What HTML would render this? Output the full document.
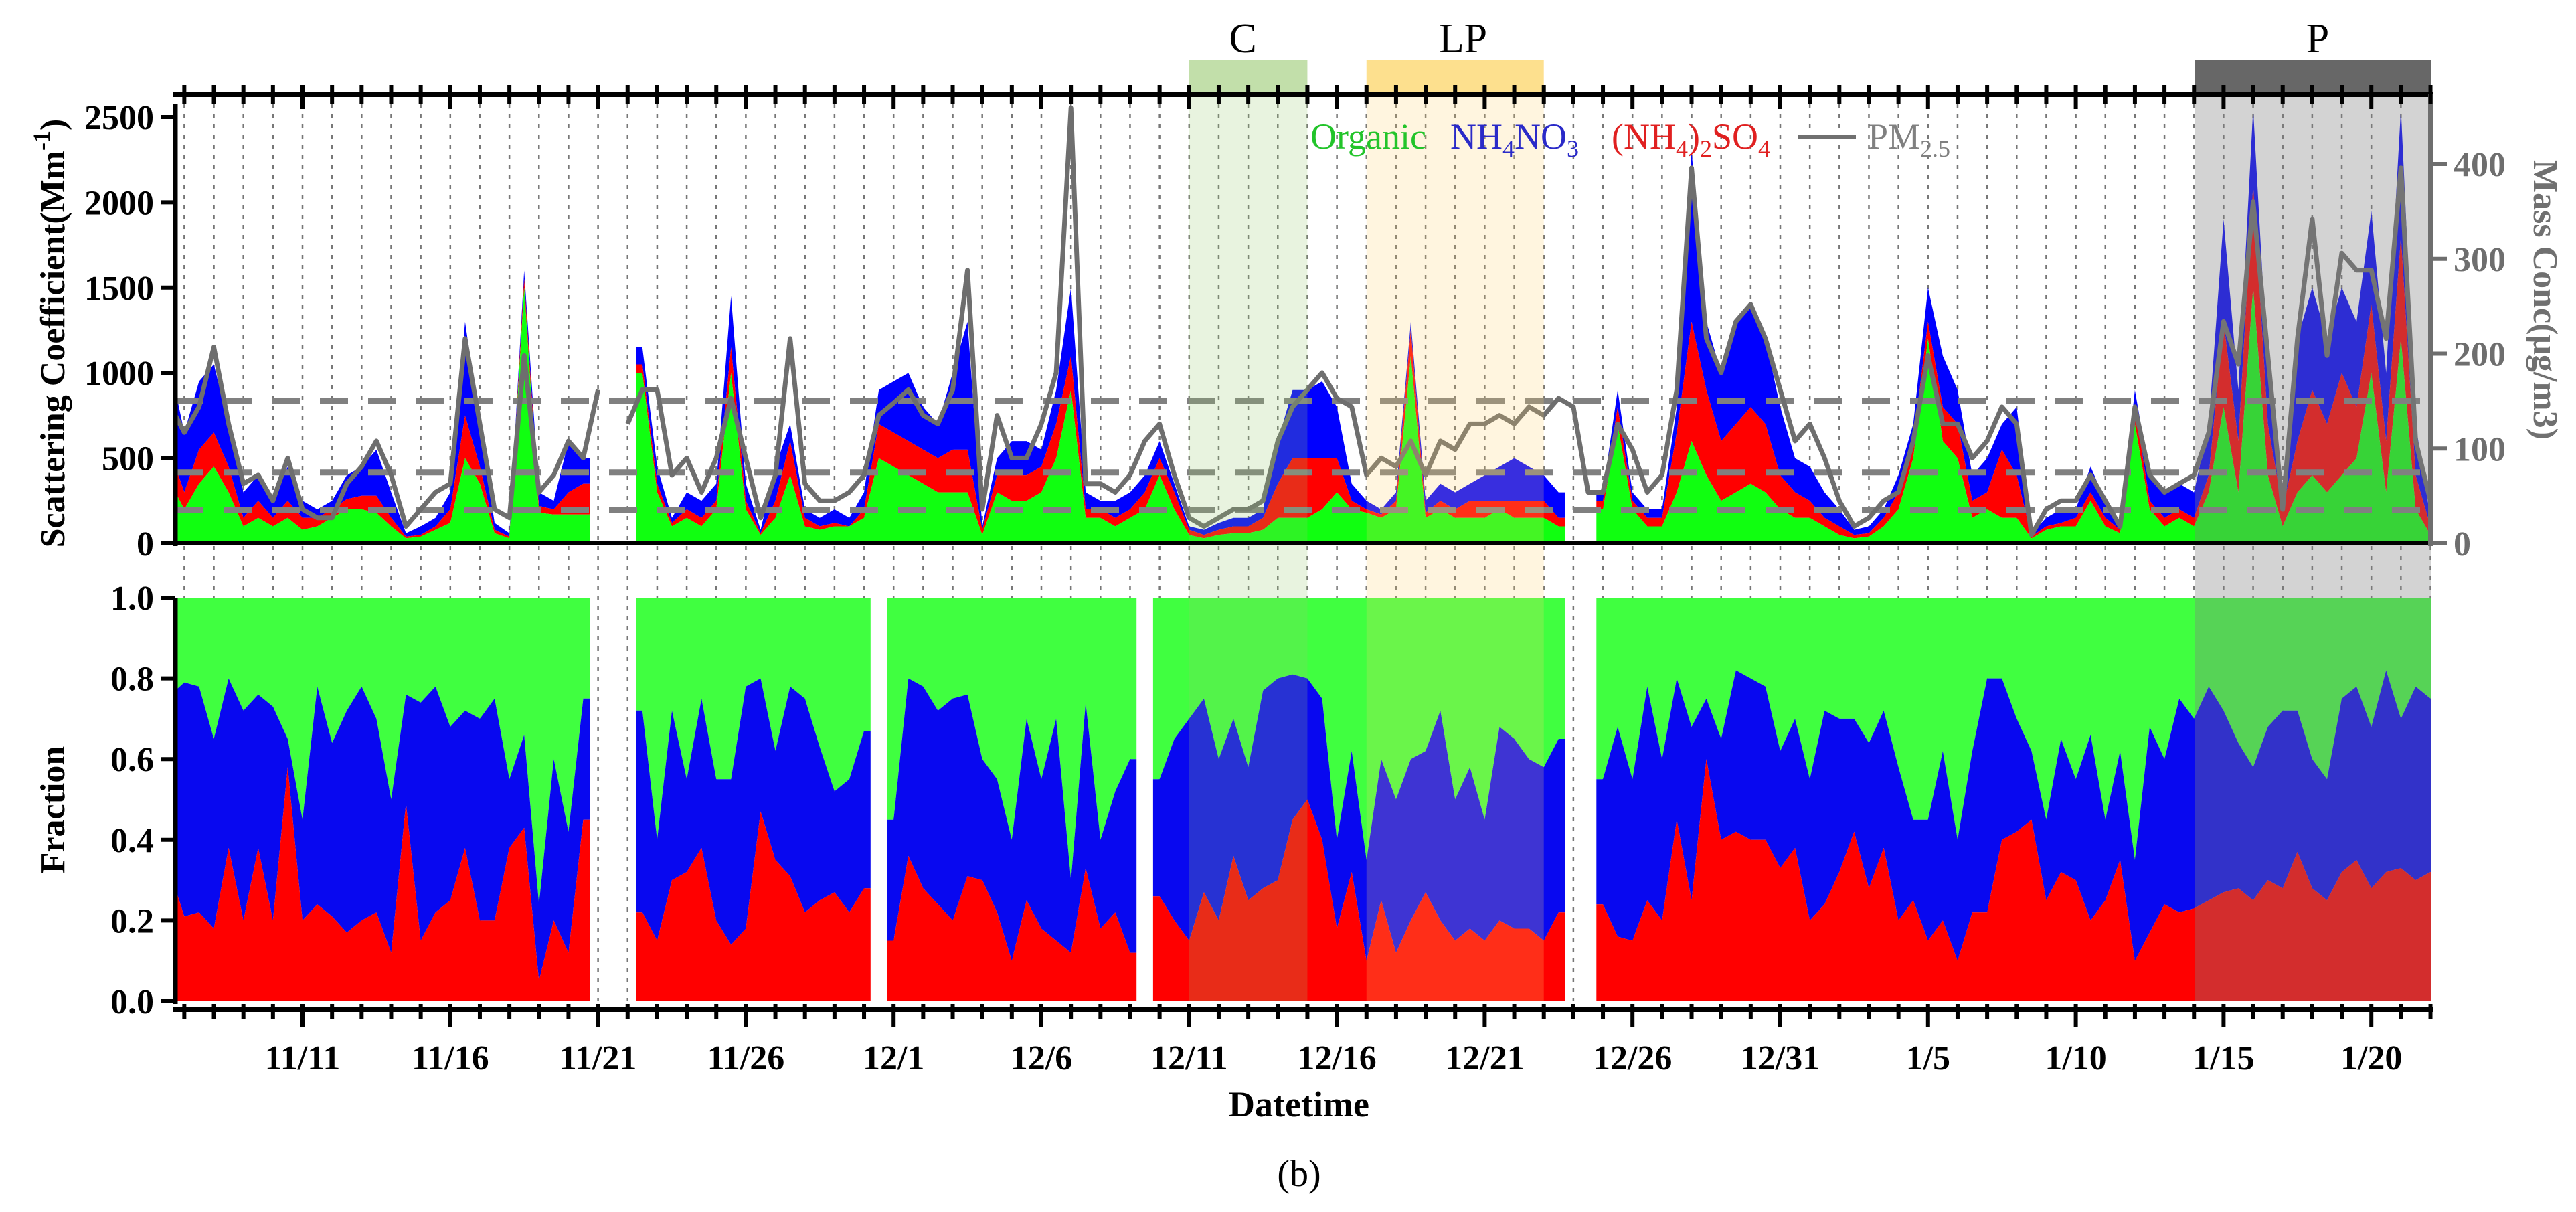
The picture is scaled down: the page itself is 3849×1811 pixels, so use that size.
<!DOCTYPE html>
<html><head><meta charset="utf-8"><style>
html,body{margin:0;padding:0;background:#fff;}
svg{display:block;}
text{font-family:"Liberation Serif","Times New Roman",serif;}
</style></head><body>
<svg id="chart" xmlns="http://www.w3.org/2000/svg" width="3849" height="1811" viewBox="0 0 3849 1811">
<g id="gridLayer"></g>
<g id="topMarks"></g>
<g id="botMarks"></g>
<g id="overlays"></g>
<g id="axes"></g>
<g id="labels">
  <text x="1857" y="78" font-size="62" text-anchor="middle">C</text>
  <text x="2186" y="78" font-size="62" text-anchor="middle">LP</text>
  <text x="3463" y="78" font-size="62" text-anchor="middle">P</text>
  <g font-size="54">
    <text x="1958" y="222" fill="#22c42a">Organic</text>
    <text x="2167" y="222" fill="#2a2ac8">NH<tspan font-size="36" dy="12">4</tspan><tspan dy="-12">NO</tspan><tspan font-size="36" dy="12">3</tspan></text>
    <text x="2408" y="222" fill="#e02020">(NH<tspan font-size="36" dy="12">4</tspan><tspan dy="-12">)</tspan><tspan font-size="36" dy="12">2</tspan><tspan dy="-12">SO</tspan><tspan font-size="36" dy="12">4</tspan></text>
    <line x1="2687" y1="204" x2="2773" y2="204" stroke="#707070" stroke-width="6"/>
    <text x="2791" y="222" fill="#808080">PM<tspan font-size="36" dy="12">2.5</tspan></text>
  </g>
  <text transform="translate(96,498) rotate(-90)" font-size="52" font-weight="bold" text-anchor="middle">Scattering Coefficient(Mm<tspan font-size="36" dy="-22">-1</tspan><tspan dy="22">)</tspan></text>
  <text transform="translate(96,1210) rotate(-90)" font-size="52" font-weight="bold" text-anchor="middle">Fraction</text>
  <text transform="translate(3786,448) rotate(90)" font-size="52" font-weight="bold" fill="#707070" text-anchor="middle">Mass Conc(μg/m3)</text>
  <text x="1941" y="1668" font-size="54" font-weight="bold" text-anchor="middle">Datetime</text>
  <text x="1941" y="1772" font-size="56" text-anchor="middle">(b)</text>
</g>
</svg>
<script>
// ---- data (day offsets relative to 11/11, half-day steps) ----
const startDay = -4.5;
const stepDay = 0.5;
// scattering: organic (green), organic+sulfate (red top), total incl. nitrate (blue top), Mm-1
const organicScat = [300,200,350,450,300,100,150,100,150,80,100,150,200,200,180,100,30,40,80,120,500,350,60,30,1500,180,170,170,170,null,null,null,1000,300,100,150,100,200,1000,200,50,150,400,100,80,100,100,150,
500,450,400,350,300,300,300,50,300,250,250,300,500,900,150,150,100,150,200,400,200,50,30,50,60,60,80,150,150,150,200,300,
200,180,150,200,1100,150,200,150,150,150,200,150,150,150,100,null,null,200,700,200,100,100,300,600,400,250,300,350,300,200,150,150,100,50,30,40,100,200,500,1200,600,500,150,200,150,150,30,80,100,100,250,100,60,700,200,100,150,100,300,800,300,1500,400,100,300,400,300,400,500,1000,300,1200,200,50];
const sulfateCum = [450,300,550,650,450,150,250,150,250,150,150,200,260,280,280,150,40,50,100,200,750,450,80,40,1550,220,200,300,350,null,null,null,1050,350,120,200,150,250,1150,250,60,250,600,150,100,120,100,200,
700,650,600,550,500,550,550,80,400,400,400,450,700,1100,200,200,150,200,300,500,300,80,50,80,100,100,150,350,500,500,500,500,
250,200,170,250,1250,180,250,200,250,250,250,250,250,250,150,null,null,250,800,250,150,150,650,1300,900,600,700,800,700,400,300,250,150,100,50,60,150,300,600,1300,800,700,250,300,550,400,40,100,120,150,300,150,80,800,250,150,200,150,400,1300,600,2100,700,200,600,900,700,1000,800,1400,600,1800,400,100];
const totalScat = [900,650,950,1050,700,300,400,250,450,250,200,250,400,450,550,300,60,100,150,300,1300,700,120,60,1600,300,250,600,500,null,null,null,1150,450,150,300,250,350,1450,350,80,450,700,200,150,200,150,300,
900,950,1000,800,700,1000,1300,100,500,600,600,550,900,1500,300,250,250,300,400,600,350,100,80,120,150,150,200,600,900,900,950,800,
350,250,200,300,1300,250,350,300,350,400,450,500,450,400,300,null,null,300,900,300,200,200,800,2300,1300,1000,1300,1400,1200,800,500,450,300,200,80,100,200,400,700,1500,1100,900,400,500,700,800,60,150,200,200,450,250,100,900,400,300,350,300,700,1900,900,2550,1000,300,1200,1500,1200,1500,1300,1950,1000,2550,700,150];
// PM2.5 mass concentration, ug/m3
const pm25 = [135,117,144,207,126,63,72,45,90,36,27,27,63,81,108,72,18,36,54,63,216,126,36,27,198,54,72,108,90,162,null,126,162,162,72,90,54,90,153,90,27,72,216,63,45,45,54,72,
135,148,162,135,126,162,288,36,135,90,90,126,180,459,63,63,54,72,108,126,72,27,18,27,36,36,45,108,144,162,180,153,
144,72,90,81,108,72,108,99,126,126,135,126,144,135,153,144,54,54,126,99,54,72,162,396,216,180,234,252,216,162,108,126,90,45,18,27,45,54,108,198,126,126,90,108,144,126,9,36,45,45,72,45,18,144,72,54,63,72,117,234,189,360,198,36,216,342,198,306,288,288,216,396,108,45];
// fraction panel: sulfate fraction (red top) and sulfate+nitrate fraction (blue top)
const sulfateFrac = [0.28,0.21,0.22,0.18,0.38,0.20,0.38,0.20,0.58,0.20,0.24,0.21,0.17,0.20,0.22,0.12,0.49,0.15,0.22,0.25,0.38,0.20,0.20,0.38,0.43,0.05,0.20,0.12,0.45,null,null,null,0.22,0.15,0.30,0.32,0.38,0.20,0.14,0.18,0.47,0.35,0.31,0.22,0.25,0.27,0.22,0.28,null,0.15,0.36,0.28,0.24,0.20,0.31,0.30,0.22,0.10,0.25,0.18,0.15,0.12,0.33,0.18,0.22,0.12,null,0.26,0.20,0.15,0.27,0.20,0.36,0.25,0.28,0.30,0.45,0.50,0.40,0.18,0.32,0.10,0.25,0.12,0.20,0.27,0.20,0.15,0.18,0.15,0.20,0.18,0.18,0.15,0.22,null,null,0.24,0.16,0.15,0.25,0.20,0.45,0.25,0.60,0.40,0.42,0.40,0.40,0.33,0.38,0.20,0.24,0.32,0.42,0.28,0.38,0.20,0.25,0.15,0.20,0.10,0.22,0.22,0.40,0.42,0.45,0.25,0.32,0.30,0.20,0.25,0.35,0.10,0.17,0.24,0.22,0.23,0.25,0.27,0.28,0.25,0.30,0.28,0.37,0.28,0.25,0.32,0.35,0.28,0.32,0.33,0.30,0.32];
const ionFrac = [0.77,0.79,0.78,0.65,0.80,0.72,0.76,0.73,0.65,0.45,0.78,0.64,0.72,0.78,0.70,0.50,0.76,0.74,0.78,0.68,0.72,0.70,0.75,0.55,0.66,0.24,0.60,0.42,0.75,null,null,null,0.72,0.40,0.72,0.55,0.75,0.55,0.55,0.78,0.80,0.62,0.78,0.75,0.63,0.52,0.55,0.67,null,0.45,0.80,0.78,0.72,0.75,0.76,0.60,0.55,0.40,0.70,0.55,0.70,0.30,0.74,0.40,0.52,0.60,null,0.55,0.65,0.70,0.75,0.60,0.70,0.58,0.77,0.80,0.81,0.80,0.75,0.40,0.62,0.35,0.60,0.50,0.60,0.62,0.72,0.50,0.58,0.45,0.68,0.65,0.60,0.58,0.65,null,null,0.55,0.68,0.55,0.78,0.60,0.80,0.68,0.75,0.65,0.82,0.80,0.78,0.62,0.70,0.55,0.72,0.70,0.70,0.64,0.72,0.58,0.45,0.45,0.62,0.40,0.62,0.80,0.80,0.70,0.62,0.45,0.65,0.55,0.66,0.45,0.62,0.35,0.68,0.60,0.75,0.70,0.78,0.72,0.64,0.58,0.68,0.72,0.72,0.60,0.55,0.75,0.78,0.68,0.82,0.70,0.78,0.75];
const leftTicks = [0,500,1000,1500,2000,2500];
const rightTicks = [0,100,200,300,400];
const fracTicks = ["0.0","0.2","0.4","0.6","0.8","1.0"];
const pmThresholds = [150,75,35];
const dateLabels = ["11/11","11/16","11/21","11/26","12/1","12/6","12/11","12/16","12/21","12/26","12/31","1/5","1/10","1/15","1/20"];
const dateLabelDays = [0,5,10,15,20,25,30,35,40,45,50,55,60,65,70];
const periodNames = ["C","LP","P"];
const periodStart = [30,36,64.04];
const periodEnd = [34,42,72.06];

// ---- geometry / scales ----
const NS = "http://www.w3.org/2000/svg";
const X0 = 262, X1 = 3632;
const DAY0X = 452, DAYPX = 44.16;
const TOP_Y0 = 812, TOP_TOP = 141;
const BOT_Y0 = 1496, BOT_Y1 = 893;
const xScale = d => DAY0X + d * DAYPX;
const yLeft = v => TOP_Y0 - v * 0.2548;
const yRight = v => TOP_Y0 - v * 1.4175;
const yFrac = v => BOT_Y0 - v * (BOT_Y0 - BOT_Y1);
const dayOf = i => startDay + i * stepDay;
const clipX = x => Math.max(X0, Math.min(X1, x));

function mk(tag, attrs, parent) {
  const el = document.createElementNS(NS, tag);
  for (const k in attrs) el.setAttribute(k, attrs[k]);
  parent.appendChild(el);
  return el;
}
const gridG = document.getElementById('gridLayer');
const topG = document.getElementById('topMarks');
const botG = document.getElementById('botMarks');
const ovG = document.getElementById('overlays');
const axG = document.getElementById('axes');

for (let d = -4; d <= 72; d++) {
  const x = xScale(d);
  if (x < X0 || x > X1) continue;
  const l = mk('line', {x1:x, y1:TOP_TOP, x2:x, y2:BOT_Y0, stroke:'#777', 'stroke-width':2.5, 'stroke-dasharray':'6 9'}, gridG);
  
  
}

const ok = v => v !== null && v !== undefined && !isNaN(v);
function segments(arrs) {
  const n = Math.max(...arrs.map(a => a.length));
  const segs = []; let cur = [];
  for (let i = 0; i < n; i++) {
    if (arrs.every(a => ok(a[i]))) cur.push(i);
    else { if (cur.length) segs.push(cur); cur = []; }
  }
  if (cur.length) segs.push(cur);
  return segs;
}
function areaPath(idx, lowerFn, upperFn) {
  const pts = [];
  const first = idx[0], last = idx[idx.length - 1];
  const xs = i => clipX(xScale(dayOf(i)));
  const xl = clipX(xScale(dayOf(first) - 0.22)), xr = clipX(xScale(dayOf(last) + 0.22));
  pts.push([xl, upperFn(first)]);
  idx.forEach(i => pts.push([xs(i), upperFn(i)]));
  pts.push([xr, upperFn(last)]);
  pts.push([xr, lowerFn(last)]);
  for (let k = idx.length - 1; k >= 0; k--) pts.push([xs(idx[k]), lowerFn(idx[k])]);
  pts.push([xl, lowerFn(first)]);
  return 'M' + pts.map(p => p[0].toFixed(1) + ',' + p[1].toFixed(1)).join('L') + 'Z';
}

segments([organicScat, sulfateCum, totalScat]).forEach(seg => {
  const pB = mk('path', {d: areaPath(seg, i => yLeft(sulfateCum[i]), i => yLeft(totalScat[i])), fill:'#0000ff'}, topG);
  
  
  const pR = mk('path', {d: areaPath(seg, i => yLeft(organicScat[i]), i => yLeft(sulfateCum[i])), fill:'#ff0000'}, topG);
  
  
  const pG = mk('path', {d: areaPath(seg, i => yLeft(0), i => yLeft(organicScat[i])), fill:'#10ff10'}, topG);
  
  
});
pmThresholds.forEach(v => {
  const l = mk('line', {x1:X0, y1:yRight(v), x2:X1, y2:yRight(v), stroke:'#808080', 'stroke-width':9, 'stroke-dasharray':'42 30'}, topG);
  
  
});
segments([pm25]).forEach(seg => {
  const pts = seg.map(i => clipX(xScale(dayOf(i))).toFixed(1) + ',' + yRight(pm25[i]).toFixed(1)).join(' ');
  const pl = mk('polyline', {points: pts, fill:'none', stroke:'#6e6e6e', 'stroke-width':7, 'stroke-linejoin':'round'}, topG);
  
  
});

segments([sulfateFrac, ionFrac]).forEach(seg => {
  const g = mk('path', {d: areaPath(seg, i => yFrac(ionFrac[i]), i => yFrac(1)), fill:'#40ff40'}, botG);
  
  
  const b = mk('path', {d: areaPath(seg, i => yFrac(sulfateFrac[i]), i => yFrac(ionFrac[i])), fill:'#0808f0'}, botG);
  
  
  const r = mk('path', {d: areaPath(seg, i => yFrac(0), i => yFrac(sulfateFrac[i])), fill:'#ff0000'}, botG);
  
  
});

const bodyFill = ['rgba(150,200,110,0.22)', 'rgba(253,210,110,0.22)', 'rgba(128,128,128,0.35)'];
const headFill = ['#c2dfaa', '#fde08e', '#676767'];
periodNames.forEach((n, k) => {
  const xa = clipX(xScale(periodStart[k])), xb = clipX(xScale(periodEnd[k]));
  const body = mk('rect', {x:xa, y:TOP_TOP, width:xb - xa, height:BOT_Y0 - TOP_TOP, fill:bodyFill[k]}, ovG);
  
  
  const head = mk('rect', {x:xa, y:89, width:xb - xa, height:TOP_TOP - 89, fill:headFill[k]}, ovG);
  
  
});

function line(x1, y1, x2, y2, c, w, name) {
  const l = mk('line', {x1, y1, x2, y2, stroke:c, 'stroke-width':w}, axG);
  
  
}
line(X0 - 3, TOP_TOP, X1 + 3, TOP_TOP, '#000', 8, 'top-axis-line');
line(X0, TOP_TOP + 14, X0, TOP_Y0 + 4, '#000', 7, 'left-axis-line');
line(X0, TOP_Y0, X1, TOP_Y0, '#000', 6, 'zero-baseline');
line(X1, TOP_TOP, X1, TOP_Y0 + 4, '#6e6e6e', 8, 'right-axis-line');
line(X0, BOT_Y1, X0, BOT_Y0 + 4, '#000', 7, 'fraction-axis-line');
line(X0 - 3, 1508, X1 + 3, 1508, '#000', 8, 'bottom-axis-line');
for (let d = -4; d <= 72; d++) {
  const x = xScale(d); if (x < X0 || x > X1) continue;
  const major = d % 5 === 0;
  line(x, TOP_TOP - 14, x, TOP_TOP + 14 + (major ? 8 : 0), '#000', 6, 'top-axis-tick');
  line(x, 1500, x, 1522 + (major ? 12 : 0), '#000', 6, 'bottom-axis-tick');
}
leftTicks.forEach(v => {
  const y = yLeft(v);
  line(X0 - 22, y, X0, y, '#000', 6, 'left-axis-tick');
  const t = mk('text', {x:X0 - 32, y:y + 18, 'font-size':52, 'font-weight':'bold', 'text-anchor':'end'}, axG);
  t.textContent = v;
  
  
});
rightTicks.forEach(v => {
  const y = yRight(v);
  line(X1, y, X1 + 24, y, '#6e6e6e', 6, 'right-axis-tick');
  const t = mk('text', {x:X1 + 34, y:y + 18, 'font-size':52, 'font-weight':'bold', fill:'#6e6e6e'}, axG);
  t.textContent = v;
  
  
});
fracTicks.forEach((s, k) => {
  const y = yFrac(k * 0.2);
  line(X0 - 22, y, X0, y, '#000', 6, 'fraction-axis-tick');
  const t = mk('text', {x:X0 - 32, y:y + 18, 'font-size':52, 'font-weight':'bold', 'text-anchor':'end'}, axG);
  t.textContent = s;
  
  
});
dateLabels.forEach((s, k) => {
  const t = mk('text', {x:xScale(dateLabelDays[k]), y:1598, 'font-size':52, 'font-weight':'bold', 'text-anchor':'middle'}, axG);
  t.textContent = s;
  
  
});
</script>
</body></html>
